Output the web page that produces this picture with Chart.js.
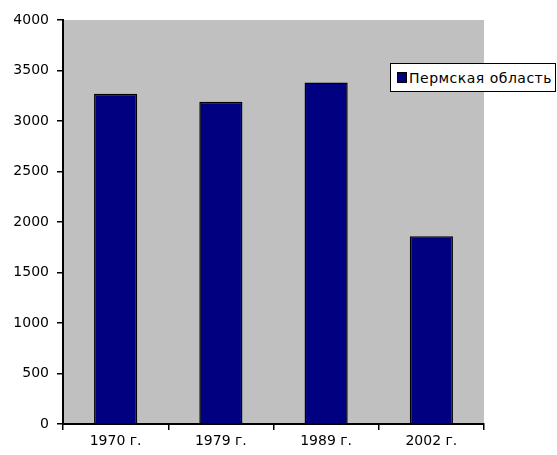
<!DOCTYPE html>
<html>
<head>
<meta charset="utf-8">
<script src="https://cdn.jsdelivr.net/npm/chart.js@4/dist/chart.umd.min.js"></script>
<style>
  body { margin: 0; background: #fff; }
  #wrap { position: relative; width: 557px; height: 455px; }
  #legend {
    position: absolute; left: 390px; top: 63px; width: 164px; height: 27px;
    background: #fff; border: 1px solid #000;
    font: 14px "DejaVu Sans", sans-serif; color: #000; letter-spacing: 0.5px;
    display: flex; align-items: center; white-space: nowrap;
  }
  #legend .sw {
    display: inline-block; width: 8px; height: 9px; background: #000080;
    border: 1px solid #000; margin: 0 2px 0 6px;
  }
</style>
</head>
<body>
<div id="wrap">
  <canvas id="myChart" width="557" height="455"></canvas>
  <div id="legend"><span class="sw"></span>Пермская область</div>
</div>
<script>
const ctx = document.getElementById("myChart");

// data
const years = ["1970 г.", "1979 г.", "1989 г.", "2002 г."];
const permValues = [3270, 3190, 3380, 1860];
const seriesName = "Пермская область";

// gray fill behind the plot
const plotBackground = {
  id: "plotBackground",
  beforeDraw(chart) {
    const a = chart.chartArea;
    const c = chart.ctx;
    c.save();
    c.fillStyle = "#c0c0c0";
    c.fillRect(a.left, a.top, a.right - a.left, a.bottom - a.top);
    c.restore();
  },
};

const chart = new Chart(ctx, {
  type: "bar",
  data: {
    labels: years,
    datasets: [
      {
        label: seriesName,
        data: permValues,
        backgroundColor: "#000080",
        borderColor: "#000",
        borderWidth: 1.5,
        categoryPercentage: 1,
        barPercentage: 0.41,
      },
    ],
  },
  options: {
    responsive: false,
    animation: false,
    layout: { padding: { left: 0, right: 73, top: 20, bottom: 0 } },
    plugins: {
      legend: { display: false },
      tooltip: { enabled: false },
    },
    scales: {
      y: {
        min: 0,
        max: 4000,
        ticks: {
          stepSize: 500,
          color: "#000",
          padding: 8,
          font: { family: "DejaVu Sans", size: 14 },
          callback: (v) => String(v),
        },
        grid: {
          drawOnChartArea: false,
          tickLength: 6,
          color: "#000",
          lineWidth: 1.5,
        },
        border: { color: "#000", width: 2 },
        afterFit(scale) {
          scale.width = 63;
        },
      },
      x: {
        ticks: {
          color: "#000",
          padding: 3,
          font: { family: "DejaVu Sans", size: 14 },
        },
        grid: {
          offset: true,
          drawOnChartArea: false,
          tickLength: 6,
          color: "#000",
          lineWidth: 1.5,
        },
        border: { color: "#000", width: 2 },
        afterFit(scale) {
          scale.height = 31;
        },
      },
    },
  },
  plugins: [plotBackground],
});
</script>
</body>
</html>
